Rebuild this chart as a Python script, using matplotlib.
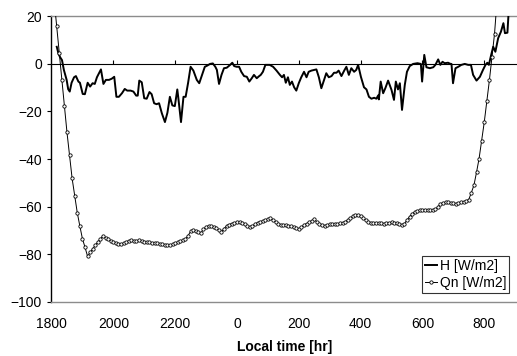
import numpy as np
import matplotlib
matplotlib.use("Agg")
import matplotlib.pyplot as plt

plt.rcParams['font.family'] = ['Liberation Sans', 'DejaVu Sans']
plt.rcParams['font.size'] = 10

# x axis is hours counted from midnight of the first day (24 = 0000 next day)
tick_hours = [18, 20, 22, 24, 26, 28, 30, 32]
tick_labels = ['1800', '2000', '2200', '0', '200', '400', '600', '800']

# sensible heat flux H
h_time = [18.17, 18.23, 18.28, 18.34, 18.40, 18.49, 18.54, 18.59, 18.65, 18.73,
          18.79, 18.87, 18.92, 19.01, 19.08, 19.17, 19.25, 19.33, 19.40, 19.47,
          19.60, 19.68, 19.76, 19.86, 19.95, 20.03, 20.10, 20.18, 20.28, 20.37,
          20.45, 20.56, 20.65, 20.74, 20.79, 20.84, 20.92, 21.00, 21.08, 21.17,
          21.24, 21.32, 21.40, 21.48, 21.57, 21.67, 21.75, 21.83, 21.91, 21.99,
          22.07, 22.10, 22.19, 22.27, 22.34, 22.42, 22.50, 22.59, 22.70, 22.78,
          22.87, 22.96, 23.04, 23.13, 23.22, 23.30, 23.35, 23.42, 23.50, 23.58,
          23.67, 23.78, 23.85, 23.91, 23.99, 24.07, 24.14, 24.23, 24.32, 24.40,
          24.48, 24.55, 24.64, 24.72, 24.77, 24.84, 24.92, 25.06, 25.17, 25.28,
          25.39, 25.46, 25.52, 25.58, 25.65, 25.71, 25.78, 25.85, 25.92, 26.00,
          26.08, 26.17, 26.25, 26.32, 26.41, 26.50, 26.57, 26.65, 26.73, 26.82,
          26.89, 26.97, 27.06, 27.14, 27.22, 27.29, 27.38, 27.47, 27.54, 27.62,
          27.70, 27.79, 27.86, 27.92, 28.01, 28.11, 28.19, 28.27, 28.35, 28.44,
          28.51, 28.57, 28.59, 28.65, 28.73, 28.80, 28.89, 28.94, 29.00, 29.08,
          29.14, 29.21, 29.27, 29.34, 29.43, 29.50, 29.59, 29.70, 29.84, 29.95,
          29.99, 30.06, 30.13, 30.24, 30.35, 30.42, 30.51, 30.58, 30.65, 30.72,
          30.83, 30.91, 30.94, 30.99, 31.07, 31.16, 31.26, 31.37, 31.48, 31.57,
          31.64, 31.75, 31.86, 31.96, 32.04, 32.10, 32.15, 32.21, 32.29, 32.36,
          32.45, 32.54, 32.62, 32.67, 32.75, 32.80]
h_val = [7.1, 4.0, 2.7, 1.5, -2.6, -6.8, -10.7, -11.7, -8.0, -5.7,
         -5.2, -7.5, -8.0, -12.7, -12.8, -8.0, -9.6, -8.2, -8.5, -5.7,
         -2.4, -8.5, -6.8, -6.8, -6.3, -5.5, -13.9, -13.9, -12.4, -10.6,
         -11.3, -11.3, -11.7, -13.4, -13.4, -7.1, -7.8, -14.5, -14.7, -11.9,
         -12.8, -16.6, -17.0, -16.6, -20.8, -24.5, -20.6, -13.9, -17.5, -17.8,
         -10.8, -14.0, -24.5, -13.9, -13.9, -8.0, -1.3, -2.9, -6.8, -8.2,
         -4.7, -1.3, -0.8, -0.1, 0.1, -1.3, -2.6, -8.5, -4.7, -1.9,
         -1.7, -0.5, 0.4, -1.0, -1.3, -1.3, -3.4, -5.2, -5.5, -7.5,
         -6.1, -4.7, -6.1, -5.2, -4.7, -3.4, -0.5, -0.5, -1.3, -2.9,
         -4.7, -5.7, -4.7, -8.0, -5.7, -8.9, -7.5, -9.9, -11.3, -8.2,
         -5.7, -3.4, -5.7, -3.4, -2.9, -2.6, -2.4, -5.7, -10.3, -6.8,
         -4.0, -5.7, -5.2, -3.8, -3.8, -2.9, -5.2, -2.9, -1.3, -4.7,
         -1.9, -3.4, -2.6, -0.5, -5.5, -9.9, -10.8, -13.9, -14.7, -14.3,
         -14.7, -13.3, -15.0, -7.5, -12.4, -10.3, -7.1, -8.9, -11.0, -15.2,
         -7.5, -10.8, -8.2, -19.4, -8.9, -3.4, -1.0, -0.1, 0.2, -0.1,
         -7.5, 3.7, -1.5, -1.9, -1.5, -0.5, 1.8, -0.5, 0.8, 0.2,
         0.4, -0.1, -0.1, -8.2, -1.9, -1.3, -0.5, -0.1, -0.5, -0.5,
         -4.7, -7.1, -5.5, -2.6, -0.5, 0.4, -0.5, 2.9, 7.1, 5.0,
         10.7, 13.4, 17.0, 12.8, 13.0, 24.0]

# net radiation Qn, 5 minute values starting 1805
qn_minutes = np.arange(5, 870, 5)
qn_val = [27.0,
          15.8, 4.4, -7.0, -17.9, -28.7, -38.3, -48.1, -55.4, -62.5, -68.1,
          -73.4, -77.0, -80.8, -79.2, -77.7, -76.2, -74.8, -73.6, -72.2, -73.0,
          -73.7, -74.2, -74.8, -75.1, -75.6, -75.7, -75.4, -74.8, -74.3, -74.0,
          -74.3, -74.4, -74.1, -74.3, -74.7, -74.9, -75.0, -75.1, -75.3, -75.4,
          -75.6, -75.8, -76.0, -76.2, -76.1, -75.8, -75.4, -75.0, -74.6, -74.1,
          -73.6, -72.2, -70.4, -69.8, -70.1, -70.8, -71.0, -69.5, -68.5, -68.0,
          -68.1, -68.5, -69.1, -69.9, -70.5, -69.2, -68.0, -67.5, -67.1, -66.8,
          -66.6, -66.6, -66.7, -67.3, -68.1, -68.7, -68.2, -67.3, -66.7, -66.3,
          -66.0, -65.7, -65.3, -64.9, -65.5, -66.4, -67.2, -67.6, -67.7, -67.8,
          -68.0, -68.3, -68.7, -69.1, -69.4, -68.6, -67.7, -67.1, -66.5, -65.9,
          -65.3, -66.4, -67.1, -67.9, -68.2, -67.7, -67.4, -67.4, -67.3, -67.2,
          -67.0, -66.8, -66.3, -65.6, -64.8, -64.0, -63.6, -63.6, -64.1, -64.9,
          -65.6, -66.4, -66.7, -67.0, -67.0, -66.9, -66.8, -67.2, -67.0, -66.7,
          -66.6, -66.8, -67.0, -67.3, -67.7, -67.2, -65.6, -64.2, -63.0, -62.2,
          -61.8, -61.5, -61.4, -61.4, -61.4, -61.6, -61.5, -61.1, -60.2, -58.9,
          -58.3, -58.2, -58.2, -58.4, -58.6, -58.8, -58.6, -58.2, -57.9, -57.6,
          -57.0, -54.1, -51.0, -45.6, -39.8, -32.3, -24.6, -15.8, -7.0, 2.8,
          12.6, 27.0]
qn_time = 18 + qn_minutes / 60.0

fig = plt.figure(figsize=(5.17, 3.56), dpi=100)
ax = fig.add_axes([0.0996, 0.1517, 0.9004, 0.8033])

ax.axhline(0, color='black', lw=0.8, zorder=1)
ax.vlines(tick_hours[1:], 0, 1.4, color='black', lw=0.8, zorder=1)

ax.plot(h_time, h_val, color='black', lw=1.4, label='H [W/m2]', zorder=3)
ax.plot(qn_time, qn_val, color='black', lw=0.7, marker='o', ms=2.4,
        mfc='white', mec='black', mew=0.6, label='Qn [W/m2]', zorder=4)

ax.set_xlim(18, 33.06)
ax.set_ylim(-100, 20)
ax.set_yticks(range(-100, 21, 20))
ax.set_xticks(tick_hours)
ax.set_xticklabels(tick_labels)

ax.tick_params(axis='x', length=0, pad=11, labelsize=10)
ax.tick_params(axis='y', length=3, width=0.8, pad=4, labelsize=10, direction='out')

for side in ['top', 'bottom']:
    ax.spines[side].set_color('#8c8c8c')
    ax.spines[side].set_linewidth(1.0)
ax.spines['right'].set_visible(False)
ax.spines['left'].set_color('black')
ax.spines['left'].set_linewidth(1.0)

ax.set_xlabel('Local time [hr]', fontweight='bold', fontsize=10, labelpad=6)

leg = ax.legend(loc='lower right', bbox_to_anchor=(0.983, 0.032), frameon=True,
                fancybox=False, shadow=False, fontsize=10, handlelength=0.9,
                handletextpad=0.2, borderpad=0.2, labelspacing=0.25,
                borderaxespad=0)
leg.get_frame().set_edgecolor('black')
leg.get_frame().set_linewidth(0.8)

fig.savefig('out.png', dpi=100)
